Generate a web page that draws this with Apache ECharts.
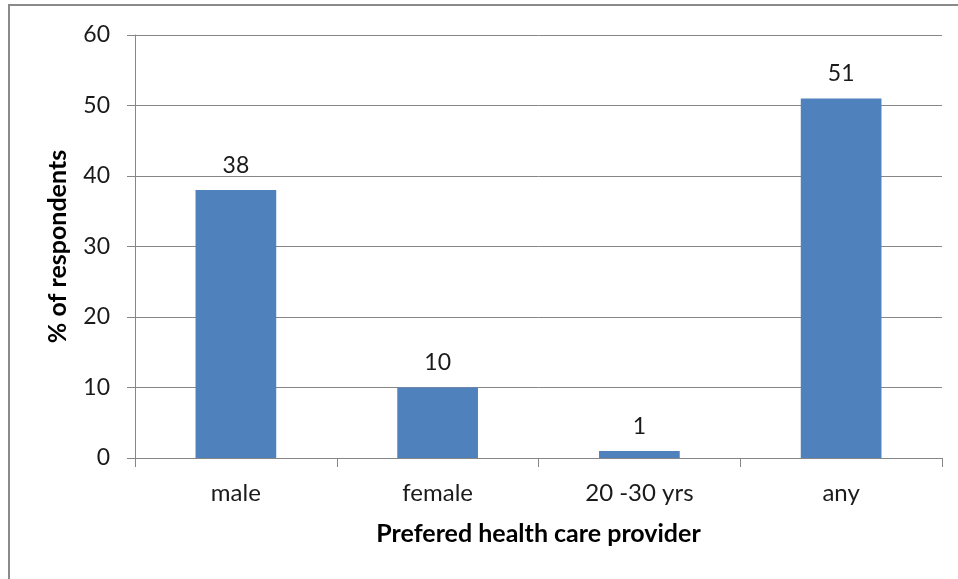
<!DOCTYPE html>
<html>
<head>
<meta charset="utf-8">
<script src="https://cdn.jsdelivr.net/npm/echarts@6/dist/echarts.min.js"></script>
<style>
  html, body { margin: 0; padding: 0; background: #fff; }
  #frame { position: absolute; left: 8px; top: 4px; width: 960px; height: 600px; border: 2px solid #8a8a8a; box-sizing: border-box; }
  #chart { position: absolute; left: 0; top: 0; width: 958px; height: 579px; }
</style>
</head>
<body>
<div id="frame"></div>
<div id="chart"></div>
<script>
// Preferred health care provider survey
const categories = ['male', 'female', '20 -30 yrs', 'any'];
const percentValues = [38, 10, 1, 51];
const yTicks = [0, 10, 20, 30, 40, 50, 60];

const FONT = 'Lato, "Open Sans", sans-serif';
const chart = echarts.init(document.getElementById('chart'));
chart.setOption({
  animation: false,
  grid: { left: 135, top: 35, right: 16, bottom: 121 },
  xAxis: {
    type: 'category',
    data: categories,
    name: 'Prefered health care provider',
    nameLocation: 'middle',
    nameGap: 63,
    nameTextStyle: { fontFamily: FONT, fontSize: 25, fontWeight: 'bold', color: '#000' },
    axisLine: { lineStyle: { color: '#868686', width: 1 } },
    axisTick: { show: true, alignWithLabel: false, length: 9, lineStyle: { color: '#868686' } },
    axisLabel: { fontFamily: FONT, fontSize: 24, color: '#1a1a1a', margin: 23 }
  },
  yAxis: {
    type: 'value',
    min: yTicks[0],
    max: yTicks[yTicks.length - 1],
    interval: 10,
    name: '% of respondents',
    nameLocation: 'middle',
    nameGap: 65,
    nameTextStyle: { fontFamily: FONT, fontSize: 25, fontWeight: 'bold', color: '#000' },
    axisLine: { show: true, lineStyle: { color: '#868686', width: 1 } },
    axisTick: { show: true, length: 8, lineStyle: { color: '#868686' } },
    axisLabel: { fontFamily: FONT, fontSize: 23, color: '#1a1a1a', margin: 25 },
    splitLine: { show: true, lineStyle: { color: '#868686', width: 1 } }
  },
  series: [{
    type: 'bar',
    data: percentValues,
    barWidth: '40%',
    itemStyle: { color: '#4F81BD' },
    label: {
      show: true,
      position: 'top',
      distance: 13,
      fontFamily: FONT,
      fontSize: 23,
      color: '#1a1a1a'
    }
  }]
});
</script>
</body>
</html>
